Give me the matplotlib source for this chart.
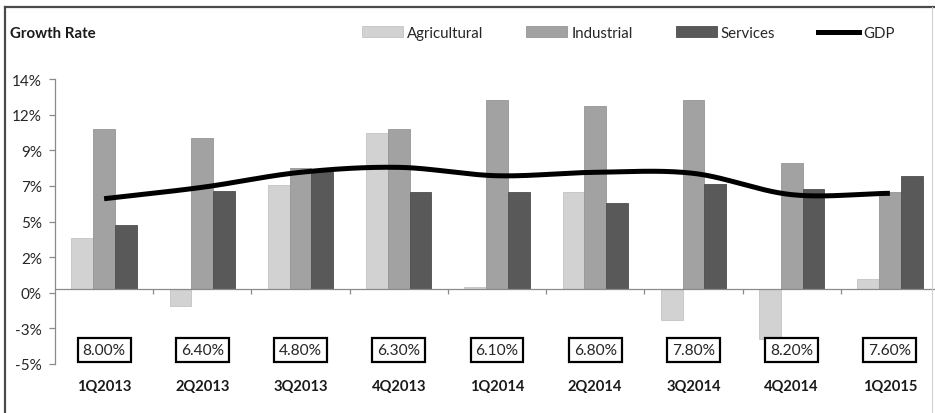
import numpy as np
import matplotlib
matplotlib.use("Agg")
import matplotlib.pyplot as plt
from matplotlib.patches import Patch
from matplotlib.lines import Line2D

plt.rcParams['font.family'] = ['Lato', 'DejaVu Sans']

quarters = ["1Q2013", "2Q2013", "3Q2013", "4Q2013", "1Q2014",
            "2Q2014", "3Q2014", "4Q2014", "1Q2015"]
agricultural = [3.4, -1.15, 6.95, 10.4, 0.15, 6.5, -2.07, -3.33, 0.67]
industrial = [10.67, 10.09, 8.07, 10.67, 12.6, 12.18, 12.6, 8.4, 6.5]
services = [4.27, 6.55, 7.82, 6.49, 6.49, 5.73, 7.0, 6.67, 7.53]
gdp = [6.02, 6.78, 7.78, 8.11, 7.55, 7.78, 7.71, 6.29, 6.38]
box_labels = ["8.00%", "6.40%", "4.80%", "6.30%", "6.10%",
              "6.80%", "7.80%", "8.20%", "7.60%"]
ytick_labels = ["-5%", "-3%", "0%", "2%", "5%", "7%", "9%", "12%", "14%"]

C_AGR = "#d2d2d2"
C_IND = "#a2a2a2"
C_SRV = "#595959"
TXT = "#262626"

W, H = 935, 414
fig = plt.figure(figsize=(W / 100, H / 100), dpi=100)
ax = fig.add_axes([55 / W, (H - 365) / H, 884 / W, 285 / H])

x = np.arange(len(quarters))
bw = 0.222
ax.bar(x - bw, agricultural, bw, color=C_AGR, edgecolor="#c4c4c4", linewidth=0.6)
ax.bar(x, industrial, bw, color=C_IND, edgecolor="#959595", linewidth=0.6)
ax.bar(x + bw, services, bw, color=C_SRV, edgecolor="#4e4e4e", linewidth=0.6)


def catmull_rom(xs, ys, n=40):
    pts = np.column_stack([xs, ys]).astype(float)
    p = np.vstack([2 * pts[0] - pts[1], pts, 2 * pts[-1] - pts[-2]])
    out = []
    t = np.linspace(0, 1, n, endpoint=False)[:, None]
    for i in range(1, len(p) - 2):
        p0, p1, p2, p3 = p[i - 1], p[i], p[i + 1], p[i + 2]
        seg = 0.5 * ((2 * p1) + (-p0 + p2) * t
                     + (2 * p0 - 5 * p1 + 4 * p2 - p3) * t ** 2
                     + (-p0 + 3 * p1 - 3 * p2 + p3) * t ** 3)
        out.append(seg)
    out.append(pts[-1][None, :])
    out = np.vstack(out)
    return out[:, 0], out[:, 1]


sx, sy = catmull_rom(x, gdp)
ax.plot(sx, sy, color="black", linewidth=3.6, solid_capstyle="butt", zorder=5)

ax.set_xlim(-0.5, len(quarters) - 0.5)
ax.set_ylim(-5, 14)
ax.set_yticks(np.linspace(-5, 14, len(ytick_labels)))
ax.set_yticklabels(ytick_labels, fontsize=11, color=TXT)
ax.tick_params(axis="y", direction="out", length=4.5, width=0.9,
               color="#8a8a8a", pad=5)

ax.set_xticks([])
ax.set_xticks(np.arange(len(quarters)) + 0.5, minor=True)
ax.tick_params(axis="x", which="minor", direction="out", length=3.5,
               width=0.9, color="#8a8a8a")

for s in ["top", "right"]:
    ax.spines[s].set_visible(False)
ax.spines["bottom"].set_position(("data", 0))
ax.spines["bottom"].set_color("#8a8a8a")
ax.spines["bottom"].set_linewidth(0.9)
ax.spines["left"].set_color("#8a8a8a")
ax.spines["left"].set_linewidth(0.9)

for i, (q, b) in enumerate(zip(quarters, box_labels)):
    ax.text(i, -4.07, b, ha="center", va="center", fontsize=11.2, color=TXT,
            bbox=dict(boxstyle="square,pad=0.32", facecolor="white",
                      edgecolor="black", linewidth=1.6))
    ax.text(i, -6.47, q, ha="center", va="center", fontsize=10.6,
            fontweight="bold", color="#1a1a1a")

fig.text(10 / W, 1 - 34 / H, "Growth Rate", ha="left", va="center",
         fontsize=10.8, fontweight="bold", color="#1a1a1a")

handles = [Patch(facecolor=C_AGR, edgecolor="#c4c4c4", linewidth=0.6),
           Patch(facecolor=C_IND, edgecolor="#959595", linewidth=0.6),
           Patch(facecolor=C_SRV, edgecolor="#4e4e4e", linewidth=0.6),
           Line2D([], [], color="black", linewidth=3.6)]
fs = 10.8
fpx = fs * 100 / 72
fig.legend(handles, ["Agricultural", "Industrial", "Services", "GDP"],
           loc="center left", bbox_to_anchor=(362 / W, 1 - 34 / H),
           ncol=4, frameon=False, fontsize=fs, handlelength=41 / fpx,
           handleheight=0.75, handletextpad=4 / fpx, columnspacing=43 / fpx,
           borderpad=0, borderaxespad=0, labelcolor=TXT)

# chart frame
fig.add_artist(Line2D([5 / W, 1], [1 - 8 / H, 1 - 8 / H], color="#4a4a4a",
                      linewidth=1.6, transform=fig.transFigure))
fig.add_artist(Line2D([5 / W, 5 / W], [0, 1 - 8 / H], color="#4a4a4a",
                      linewidth=1.6, transform=fig.transFigure))
fig.add_artist(Line2D([932 / W, 932 / W], [0, 1 - 8 / H], color="#d0d0d0",
                      linewidth=0.8, transform=fig.transFigure))

fig.savefig("out.png", dpi=100, facecolor="white")
